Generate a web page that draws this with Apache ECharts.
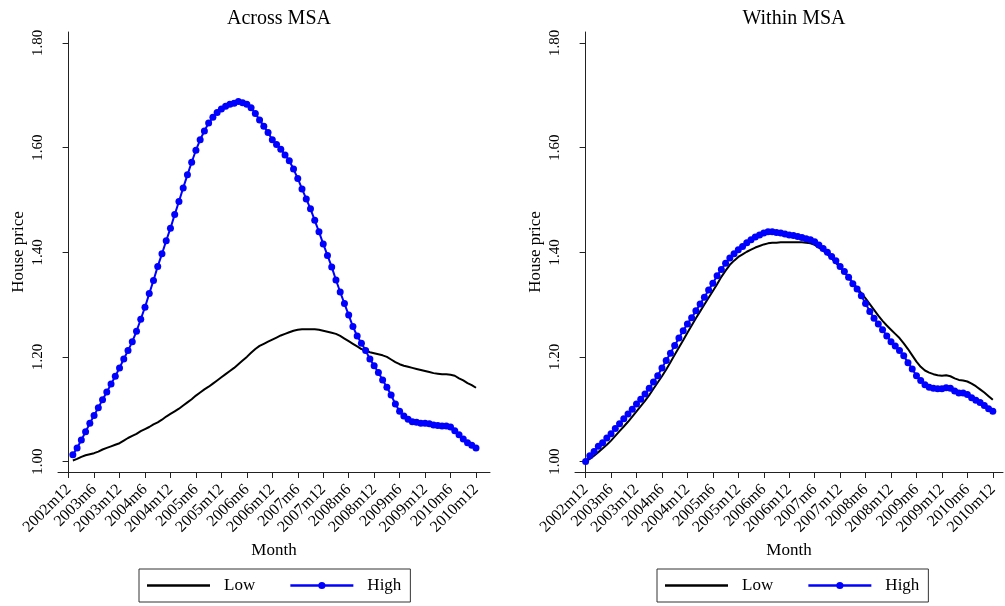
<!DOCTYPE html>
<html>
<head>
<meta charset="utf-8">
<script src="https://cdn.jsdelivr.net/npm/echarts@6/dist/echarts.min.js"></script>
<style>
html,body{margin:0;padding:0;background:#fff;}
#chart{width:1005px;height:606px;}
</style>
</head>
<body>
<div id="chart"></div>
<script>
// ---- data (month index 0 = 2002m12) ----
const panelTitles = ['Across MSA', 'Within MSA'];
const seriesNames = ['Low', 'High'];
const xTickMonths = [0, 6, 12, 18, 24, 30, 36, 42, 48, 54, 60, 66, 72, 78, 84, 90, 96];
const xTickLabels = ['2002m12','2003m6','2003m12','2004m6','2004m12','2005m6','2005m12','2006m6','2006m12','2007m6','2007m12','2008m6','2008m12','2009m6','2009m12','2010m6','2010m12'];
const yTicks = [1.0, 1.2, 1.4, 1.6, 1.8];

// Across MSA: 2003m1 .. 2010m12 (month index 1..96)
const acrossStart = 1;
const acrossLow = [
 1.002,1.005,1.009,1.012,1.014,1.016,1.019,1.023,1.026,1.029,1.032,1.035,
 1.040,1.045,1.049,1.053,1.058,1.062,1.066,1.071,1.075,1.080,1.086,1.091,
 1.096,1.101,1.107,1.113,1.119,1.126,1.132,1.138,1.143,1.149,1.155,1.161,
 1.167,1.173,1.179,1.186,1.193,1.200,1.208,1.215,1.221,1.225,1.229,1.233,
 1.237,1.241,1.244,1.247,1.250,1.252,1.253,1.253,1.253,1.253,1.252,1.250,
 1.248,1.246,1.244,1.240,1.235,1.230,1.225,1.220,1.215,1.212,1.209,1.207,
 1.205,1.203,1.200,1.195,1.190,1.186,1.183,1.181,1.179,1.177,1.175,1.173,
 1.171,1.169,1.168,1.167,1.167,1.166,1.164,1.159,1.155,1.150,1.146,1.141
];
const acrossHigh = [
 1.013,1.026,1.041,1.057,1.073,1.088,1.103,1.118,1.133,1.148,1.163,1.179,
 1.196,1.212,1.229,1.249,1.272,1.295,1.321,1.346,1.373,1.397,1.422,1.446,
 1.472,1.497,1.523,1.548,1.572,1.595,1.615,1.632,1.647,1.658,1.667,1.674,
 1.679,1.683,1.685,1.688,1.686,1.683,1.676,1.665,1.653,1.641,1.629,1.615,
 1.606,1.597,1.586,1.575,1.559,1.541,1.521,1.502,1.483,1.461,1.439,1.416,
 1.394,1.372,1.347,1.324,1.302,1.280,1.258,1.240,1.226,1.212,1.196,1.183,
 1.170,1.156,1.142,1.127,1.110,1.096,1.087,1.081,1.076,1.075,1.073,1.073,
 1.072,1.070,1.069,1.068,1.068,1.066,1.059,1.051,1.043,1.036,1.031,1.026
];

// Within MSA: 2002m12 .. 2010m12 (month index 0..96)
const withinStart = 0;
const withinLow = [
 1.000,
 1.005,1.011,1.018,1.025,1.032,1.040,1.049,1.058,1.067,1.076,1.086,1.096,
 1.106,1.116,1.127,1.139,1.151,1.163,1.176,1.190,1.204,1.218,1.232,1.246,
 1.260,1.274,1.287,1.300,1.313,1.326,1.339,1.353,1.365,1.376,1.384,1.391,
 1.396,1.401,1.405,1.409,1.412,1.415,1.417,1.418,1.418,1.419,1.419,1.419,
 1.419,1.419,1.419,1.418,1.417,1.414,1.409,1.403,1.396,1.388,1.380,1.371,
 1.362,1.352,1.342,1.332,1.322,1.312,1.301,1.290,1.279,1.269,1.260,1.252,
 1.244,1.236,1.226,1.215,1.203,1.191,1.181,1.174,1.170,1.167,1.165,1.164,
 1.165,1.163,1.159,1.156,1.155,1.153,1.149,1.144,1.138,1.132,1.125,1.118
];
const withinHigh = [
 1.000,
 1.011,1.019,1.029,1.036,1.045,1.053,1.063,1.072,1.082,1.091,1.100,1.110,
 1.119,1.129,1.140,1.152,1.164,1.179,1.193,1.207,1.222,1.236,1.250,1.263,
 1.275,1.288,1.301,1.314,1.328,1.341,1.355,1.367,1.379,1.389,1.397,1.405,
 1.411,1.418,1.424,1.429,1.433,1.437,1.439,1.439,1.438,1.437,1.435,1.433,
 1.432,1.430,1.428,1.426,1.424,1.420,1.414,1.407,1.400,1.392,1.384,1.373,
 1.363,1.352,1.340,1.330,1.317,1.302,1.287,1.274,1.263,1.252,1.240,1.229,
 1.221,1.212,1.202,1.189,1.177,1.164,1.155,1.147,1.142,1.140,1.139,1.139,
 1.141,1.140,1.135,1.131,1.131,1.128,1.122,1.117,1.113,1.107,1.101,1.096
];

// ---- chart ----
const FONT = '"Liberation Serif", "Times New Roman", serif';
const AX = '#222';
function pairs(start, arr){ return arr.map((v,i)=>[start+i, v]); }

const grids = [
  {left: 58, top: 32, width: 432, height: 440},
  {left: 575, top: 32, width: 428, height: 440}
];
const xMax = [99.3, 98.4];

function xAxis(i){
  return {
    type: 'value', gridIndex: i, min: -2.5, max: xMax[i],
    name: 'Month', nameLocation: 'middle', nameGap: 69,
    nameTextStyle: {fontFamily: FONT, fontSize: 17, color: '#000'},
    axisLine: {show: true, lineStyle: {color: AX, width: 1}},
    axisTick: {show: true, length: 6, customValues: xTickMonths, lineStyle: {color: AX}},
    axisLabel: {customValues: xTickMonths, rotate: 45, margin: 15, fontFamily: FONT, fontSize: 16, color: '#000',
      formatter: v => xTickLabels[xTickMonths.indexOf(Math.round(v))] || ''},
    splitLine: {show: false}
  };
}
function yAxis(i){
  return {
    type: 'value', gridIndex: i, min: 0.98, max: 1.821,
    name: 'House price', nameLocation: 'middle', nameGap: 31,
    nameTextStyle: {fontFamily: FONT, fontSize: 17, color: '#000'},
    axisLine: {show: true, lineStyle: {color: AX, width: 1}},
    axisTick: {show: true, length: 6, customValues: yTicks, lineStyle: {color: AX}},
    axisLabel: {customValues: yTicks, rotate: 90, margin: 12, fontFamily: FONT, fontSize: 15, color: '#000',
      formatter: v => v.toFixed(2)},
    splitLine: {show: false}
  };
}
function lowSeries(i, start, arr){
  return {name: seriesNames[0], type: 'line', xAxisIndex: i, yAxisIndex: i,
    data: pairs(start, arr), showSymbol: false, symbol: 'none',
    lineStyle: {color: '#000', width: 2}, itemStyle: {color: '#000'}, z: 2};
}
function highSeries(i, start, arr){
  return {name: seriesNames[1], type: 'line', xAxisIndex: i, yAxisIndex: i,
    data: pairs(start, arr), symbol: 'circle', symbolSize: 7, showSymbol: true,
    lineStyle: {color: '#0000ff', width: 2}, itemStyle: {color: '#0000ff'}, z: 3};
}
function legend(left){
  return {
    left: left, top: 569, orient: 'horizontal',
    data: [
      {name: seriesNames[0], icon: 'path://M0,0H63V2.4H0Z'},
      {name: seriesNames[1]}
    ],
    padding: [8, 9, 8, 8], itemGap: 34, itemWidth: 63, itemHeight: 9,
    borderColor: '#333', borderWidth: 1, borderRadius: 0,
    selectedMode: false,
    lineStyle: {width: 2.4},
    textStyle: {fontFamily: FONT, fontSize: 17, color: '#000', padding: [0, 0, 0, 9], lineHeight: 17}
  };
}

const chart = echarts.init(document.getElementById('chart'), null, {renderer: 'canvas'});
chart.setOption({
  animation: false,
  backgroundColor: '#fff',
  title: [
    {text: panelTitles[0], left: 274, top: 4, textAlign: 'center', textStyle: {fontFamily: FONT, fontSize: 20, fontWeight: 'normal', color: '#000'}},
    {text: panelTitles[1], left: 789, top: 4, textAlign: 'center', textStyle: {fontFamily: FONT, fontSize: 20, fontWeight: 'normal', color: '#000'}}
  ],
  legend: [legend(139), legend(657)],
  grid: grids,
  xAxis: [xAxis(0), xAxis(1)],
  yAxis: [yAxis(0), yAxis(1)],
  series: [
    lowSeries(0, acrossStart, acrossLow),
    highSeries(0, acrossStart, acrossHigh),
    lowSeries(1, withinStart, withinLow),
    highSeries(1, withinStart, withinHigh)
  ]
});
</script>
</body>
</html>
